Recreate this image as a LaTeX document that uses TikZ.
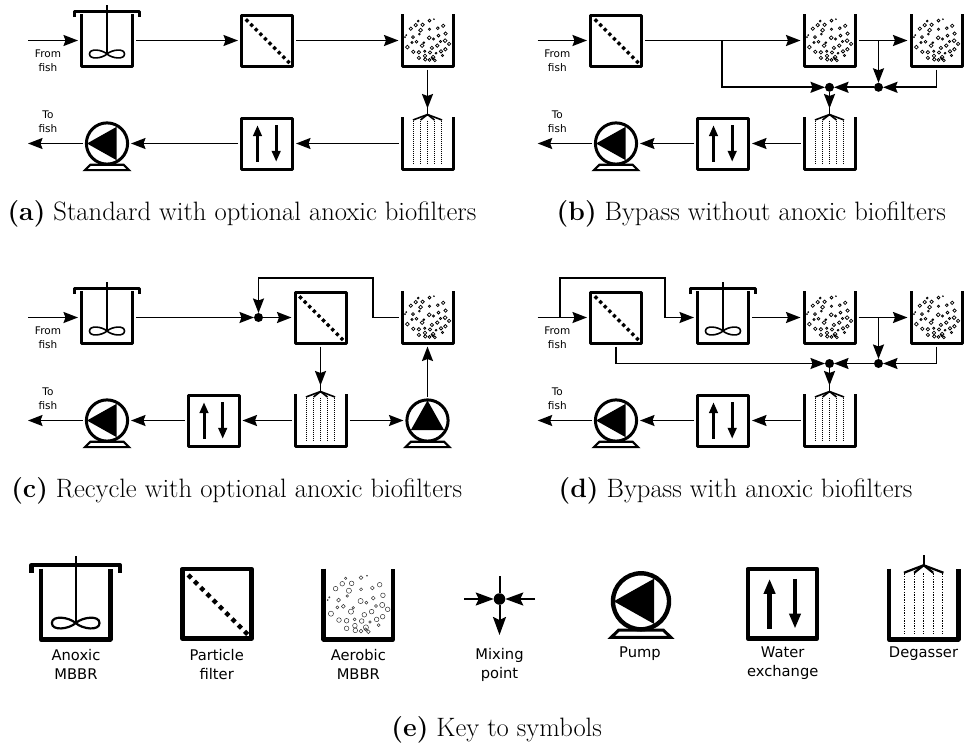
\documentclass[tikz,border=0pt]{standalone}
\usepackage{fontspec}
\usetikzlibrary{arrows.meta}
\newfontfamily\labelfont{DejaVu Sans}
\newcommand{\bubblelist}{-9.3/-19.4/.9,2/-19.9/1.4,6.4/-21.3/.4,-11.8/-15.4/1.7,-4.9/-15.7/1.7,-16.7/-11.8/1.7,10.3/-12.3/1.4,15.7/-14.7/1.7,-6.9/-10.3/1.9,2/-11.3/1.1,-8.1/-6.4/.9,-21.3/-5.4/.5,-22.5/-3.4/.4,-14.5/-3.4/1.4,11/-4.9/1.4,18.1/-6.9/1.7,1.7/-2.7/1.9,5.9/-1.5/1.1,-11/1.2/1.4,-15.4/2/1.1,-3.7/2.2/.9,-5.4/5.1/1.9,17.6/.2/1.9,13/1/1.1,21.6/3.4/1.7,-20.1/6.6/1.9,9.8/5.1/1.7,4.4/7.4/1.7,-14.2/11.3/1.7,-8.6/11.8/1.7,-2.7/10.8/1.1,2.5/12/1.7,13.5/10.8/1.7,17.9/8.8/1.7,8.6/12.7/.9,-2.5/15.4/1.7,-8.6/17.4/1.7,5.6/16.7/1.9,15/15/1.1,-2.2/18.9/1.7,2/19.4/1.4,7.4/19.9/1.4,5.4/18.1/1.1}
\tikzset{
	unit/.style={minimum size=54pt,inner sep=0pt,outer sep=2pt},
	pumpnode/.style={circle,minimum size=44pt,inner sep=0pt,outer sep=2pt},
	mixdot/.style={circle,fill=black,minimum size=9pt,inner sep=0pt,outer sep=0pt},
	flowtext/.style={align=center,font=\labelfont\fontsize{10.5}{14.4}\selectfont},
	keytext/.style={align=center,font=\labelfont\fontsize{14.7}{19}\selectfont},
	caption/.style={font=\fontsize{26.6}{30}\selectfont,anchor=base},
	tospray/.style={shorten >=6pt},
	wall/.style={line width=3pt,line join=round},
	stem/.style={line width=1.6pt},
	bubble/.style={line width=.75pt},
	spray/.style={line width=1pt,dash pattern=on 1pt off 1pt},
	pumpbase/.style={line width=2.2pt,line join=miter},
	flowmark/.style={line width=3pt,-{Stealth[length=11pt,width=8.5pt,inset=0pt]}},
	pics/anoxic/.style={code={
		\draw[wall] (-25.5,-26.5) -- (-25.5,25.5) -- (25.5,25.5) -- (25.5,-26.5);
		\draw[wall] (-32.5,-23.5) -- (-32.5,-29) -- (32.5,-29) -- (32.5,-23.5);
		\draw[stem] (0,-35.5) -- (0,13.5);
		\draw[stem] (0,13.5) .. controls (5,9) and (17.5,7.5) .. (17.5,13.5) .. controls (17.5,19.5) and (5,18) .. (0,13.5) .. controls (-5,9) and (-17.5,7.5) .. (-17.5,13.5) .. controls (-17.5,19.5) and (-5,18) .. cycle;
	}},
	pics/filter/.style={code={
		\draw[wall] (-25.5,-25.5) rectangle (25.5,25.5);
		\foreach \p in {-20,-15.4,...,21.5}
			\fill (\p-2.3,\p) -- (\p,\p-2.3) -- (\p+2.3,\p) -- (\p,\p+2.3) -- cycle;
	}},
	pics/aerobic/.style={code={
		\draw[wall] (-25.5,-26.5) -- (-25.5,25.5) -- (25.5,25.5) -- (25.5,-26.5);
		\foreach \x/\y/\r in \bubblelist
			\draw[bubble] (\x,\y) circle (\r);
	}},
	pics/pump/.style={code={
		\draw[wall] (0,0) circle (20.6);
		\fill[rotate=#1] (-20,0) -- (9.7,-16.7) -- (9.7,16.7) -- cycle;
		\draw[pumpbase] (-22,26.6) -- (22,26.6) -- (16.5,21.2) -- (-16.5,21.2) -- cycle;
	}},
	pics/exchange/.style={code={
		\draw[wall] (-25.5,-25.5) rectangle (25.5,25.5);
		\draw[flowmark] (-9.5,18.3) -- (-9.5,-18.3);
		\draw[flowmark] (9.2,-18.3) -- (9.2,18.3);
	}},
	pics/degasser/.style={code={
		\draw[wall] (-25.5,-26.5) -- (-25.5,25.5) -- (25.5,25.5) -- (25.5,-26.5);
		\draw[stem] (0,-36.5) -- (0,-28);
		\foreach \x in {-14.5,-7,7,14.5}
			\draw[stem] (0,-29) -- (\x,-23.5);
		\foreach \x in {-14,-7,0,7,14}
			\draw[spray] (\x,-23) -- (\x,21);
	}}
}
\newcommand{\unit}[3]{\node[unit] (#1) at (#2) {}; \pic at (#1) {#3};}
\newcommand{\pumpunit}[3]{\node[pumpnode] (#1) at (#2) {}; \pic at (#1) {pump=#3};}
\begin{document}
\begin{tikzpicture}[x=1pt,y=-1pt,line width=1.7pt,>={Stealth[length=14.5pt,width=11pt,inset=2pt]}]
	\useasboundingbox (0,0) rectangle (964,744);

	% panel a
	\coordinate (ain) at (28,40.5);
	\coordinate (aout) at (28,143.5);
	\unit{a1}{107,40.5}{anoxic}
	\unit{a2}{267,40.5}{filter}
	\unit{a3}{427.5,40.5}{aerobic}
	\unit{a4}{427.5,143.5}{degasser}
	\unit{a5}{267,143.5}{exchange}
	\pumpunit{a6}{107,143.5}{0}
	\node[flowtext] (afrom) at (48,60.5) {From\\fish};
	\node[flowtext] (ato) at (48,121.5) {To\\fish};
	\path [->] (ain) edge (a1);
	\path [->] (a1) edge (a2);
	\path [->] (a2) edge (a3);
	\path [->] (a3) edge[tospray] (a4);
	\path [->] (a4) edge (a5);
	\path [->] (a5) edge (a6);
	\path [->] (a6) edge (aout);
	\node[caption] (acap) at (242,220) {\textbf{(a)} Standard with optional anoxic biofilters};

	% panel b
	\coordinate (bin) at (537.7,40.5);
	\coordinate (bout) at (537.7,143.5);
	\coordinate (bj1) at (721.7,40.5);
	\coordinate (bj2) at (878.5,40.5);
	\unit{b1}{616,40.5}{filter}
	\unit{b2}{829.5,40.5}{aerobic}
	\unit{b3}{936.5,40.5}{aerobic}
	\unit{b4}{829.5,143.5}{degasser}
	\unit{b5}{723,143.5}{exchange}
	\pumpunit{b6}{616,143.5}{0}
	\node[mixdot] (bm1) at (829.5,87.3) {};
	\node[mixdot] (bm2) at (878.5,87.3) {};
	\node[flowtext] (bfrom) at (557.3,60.5) {From\\fish};
	\node[flowtext] (bto) at (557.3,121.5) {To\\fish};
	\path [->] (bin) edge (b1);
	\path [->] (b1) edge (b2);
	\path [->] (b2) edge (b3);
	\draw [->] (bj1) |- (bm1);
	\path [->] (bj2) edge (bm2);
	\draw [->] (b3.south) |- (bm2);
	\path [->] (bm2) edge (bm1);
	\path [->] (bm1) edge[tospray] (b4);
	\path [->] (b4) edge (b5);
	\path [->] (b5) edge (b6);
	\path [->] (b6) edge (bout);
	\node[caption] (bcap) at (751.3,220) {\textbf{(b)} Bypass without anoxic biofilters};

	% panel c
	\coordinate (cin) at (28,317.5);
	\coordinate (cout) at (28,420.5);
	\coordinate (ctop) at (372.7,277.7);
	\unit{c1}{107,317.5}{anoxic}
	\unit{c2}{320.5,317.5}{filter}
	\unit{c3}{427.5,317.5}{aerobic}
	\unit{c4}{320.5,420.5}{degasser}
	\unit{c5}{213.5,420.5}{exchange}
	\pumpunit{c6}{107,420.5}{0}
	\pumpunit{c7}{427.5,420.5}{-90}
	\node[mixdot] (cm) at (258.5,317.5) {};
	\node[flowtext] (cfrom) at (48,337.5) {From\\fish};
	\node[flowtext] (cto) at (48,398.5) {To\\fish};
	\path [->] (cin) edge (c1);
	\path [->] (c1) edge (cm);
	\path [->] (cm) edge (c2);
	\draw [->] (c3) -| (ctop) -| (cm);
	\path [->] (c2) edge[tospray] (c4);
	\path [->] (c4) edge (c5);
	\path [->] (c5) edge (c6);
	\path [->] (c6) edge (cout);
	\path [->] (c4) edge (c7);
	\path [->] (c7) edge (c3);
	\node[caption] (ccap) at (236.7,497) {\textbf{(c)} Recycle with optional anoxic biofilters};

	% panel d
	\coordinate (din) at (537.7,317.5);
	\coordinate (dout) at (537.7,420.5);
	\coordinate (dj1) at (560,317.5);
	\coordinate (dj2) at (878.5,317.5);
	\coordinate (dtop) at (665,277.7);
	\coordinate (dlow) at (665,317.5);
	\unit{d1}{616,317.5}{filter}
	\unit{d2}{723,317.5}{anoxic}
	\unit{d3}{829.5,317.5}{aerobic}
	\unit{d4}{936.5,317.5}{aerobic}
	\unit{d5}{829.5,420.5}{degasser}
	\unit{d6}{723,420.5}{exchange}
	\pumpunit{d7}{616,420.5}{0}
	\node[mixdot] (dm1) at (829.5,363.5) {};
	\node[mixdot] (dm2) at (878.5,363.5) {};
	\node[flowtext] (dfrom) at (557.3,337.5) {From\\fish};
	\node[flowtext] (dto) at (557.3,398.5) {To\\fish};
	\path [->] (din) edge (d1);
	\draw [->] (dj1) |- (dtop) -- (dlow) -- (d2);
	\path [->] (d2) edge (d3);
	\path [->] (d3) edge (d4);
	\draw [->] (d1.south) |- (dm1);
	\path [->] (dj2) edge (dm2);
	\draw [->] (d4.south) |- (dm2);
	\path [->] (dm2) edge (dm1);
	\path [->] (dm1) edge[tospray] (d5);
	\path [->] (d5) edge (d6);
	\path [->] (d6) edge (d7);
	\path [->] (d7) edge (dout);
	\node[caption] (dcap) at (735.6,497) {\textbf{(d)} Bypass with anoxic biofilters};

	% key to symbols
	\begin{scope}[every pic/.style={scale=1.36},
		unit/.append style={minimum size=73.5pt},
		pumpnode/.append style={minimum size=60pt},
		wall/.style={line width=4.4pt,line join=round},
		stem/.style={line width=2.2pt},
		bubble/.style={line width=.5pt,black!80},
		spray/.style={line width=1.3pt,dash pattern=on 1.3pt off 1.3pt},
		pumpbase/.style={line width=3pt,line join=miter},
		flowmark/.style={line width=4.2pt,-{Stealth[length=15pt,width=11pt,inset=0pt]}}]
		\unit{k1}{75.7,604.7}{anoxic}
		\unit{k2}{217,603.7}{filter}
		\unit{k3}{358.3,604.7}{aerobic}
		\pumpunit{k5}{641,601.3}{0}
		\unit{k6}{782.5,603.7}{exchange}
		\unit{k7}{923.7,604.7}{degasser}
		\node[keytext] (kt1) at (76,664.5) {Anoxic\\MBBR};
		\node[keytext] (kt2) at (216.7,664.5) {Particle\\filter};
		\node[keytext] (kt3) at (358.3,664.5) {Aerobic\\MBBR};
		\node[keytext] (kt4) at (499.5,664.5) {Mixing\\point};
		\node[keytext] (kt5) at (640,654) {Pump};
		\node[keytext] (kt6) at (782.7,663.5) {Water\\exchange};
		\node[keytext] (kt7) at (923.5,654) {Degasser};
		\begin{scope}[line width=2pt,>={Stealth[length=18pt,width=13pt,inset=3pt]}]
			\node[mixdot,minimum size=11.5pt] (k4) at (499.5,599) {};
			\coordinate (kleft) at (464,599);
			\coordinate (kright) at (535,599);
			\coordinate (ktop) at (499.5,576);
			\coordinate (kbot) at (499.5,635);
			\path [->] (kleft) edge (k4);
			\path [->] (kright) edge (k4);
			\path (ktop) edge (k4);
			\path [->] (k4) edge (kbot);
		\end{scope}
	\end{scope}
	\node[caption] (ecap) at (496.7,736.5) {\textbf{(e)} Key to symbols};
\end{tikzpicture}
\end{document}
